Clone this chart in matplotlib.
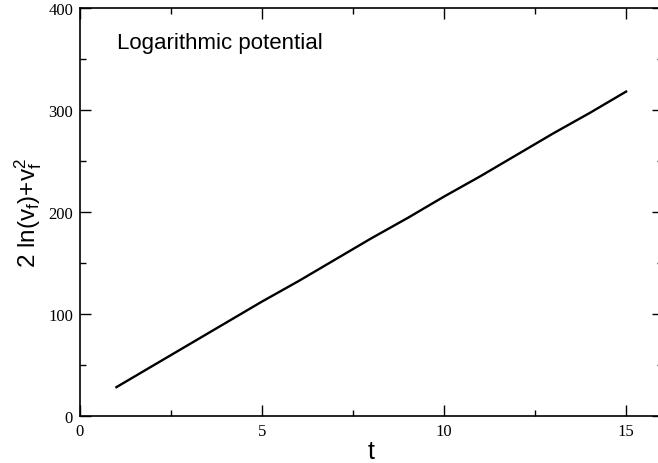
import matplotlib
matplotlib.use("Agg")
import matplotlib.pyplot as plt
from matplotlib.ticker import MultipleLocator

t = [1, 2, 3, 4, 5, 6, 7, 8, 9, 10, 11, 12, 13, 14, 15]
vals = [28, 49, 70, 91, 112, 132, 153, 174, 194, 215, 235, 256, 277, 297, 318]
xticks = [0, 5, 10, 15]
yticks = [0, 100, 200, 300, 400]

plt.rcParams['mathtext.fontset'] = 'custom'
plt.rcParams['mathtext.rm'] = 'Liberation Sans'
plt.rcParams['mathtext.it'] = 'Liberation Sans'

fig = plt.figure(figsize=(6.58, 4.64), dpi=100)
ax = fig.add_axes([80/658, 1 - 416.7/464, (662.5 - 80)/658, (416.7 - 9)/464])
ax.plot(t, vals, color='black', lw=1.7)
ax.set_xlim(0, 16)
ax.set_ylim(0, 400)
ax.set_xticks(xticks)
ax.set_yticks(yticks)
ax.xaxis.set_minor_locator(MultipleLocator(2.5))
ax.yaxis.set_minor_locator(MultipleLocator(50))
ax.tick_params(which='both', direction='in', top=True, right=True, width=1.0)
ax.tick_params(which='major', length=8)
ax.tick_params(which='minor', length=4.5)
ax.tick_params(axis='x', pad=5)
ax.tick_params(axis='y', pad=5)
for lab in ax.get_xticklabels() + ax.get_yticklabels():
    lab.set_fontfamily('Liberation Serif')
    lab.set_fontsize(12)
for s in ax.spines.values():
    s.set_linewidth(1.2)

ax.set_xlabel('t', fontfamily='Liberation Sans', fontsize=18, labelpad=0)
ax.set_ylabel(r'2 ln(v$_\mathregular{f}$)+v$_\mathregular{f}^\mathregular{2}$',
              fontfamily='Liberation Sans', fontsize=17.5)
ax.yaxis.set_label_coords(-0.062, 0.5)
ax.text(117/658, 1 - 44/464, 'Logarithmic potential', transform=fig.transFigure,
        fontfamily='Liberation Sans', fontsize=16, va='center', ha='left')

fig.savefig('out.png', dpi=100)
